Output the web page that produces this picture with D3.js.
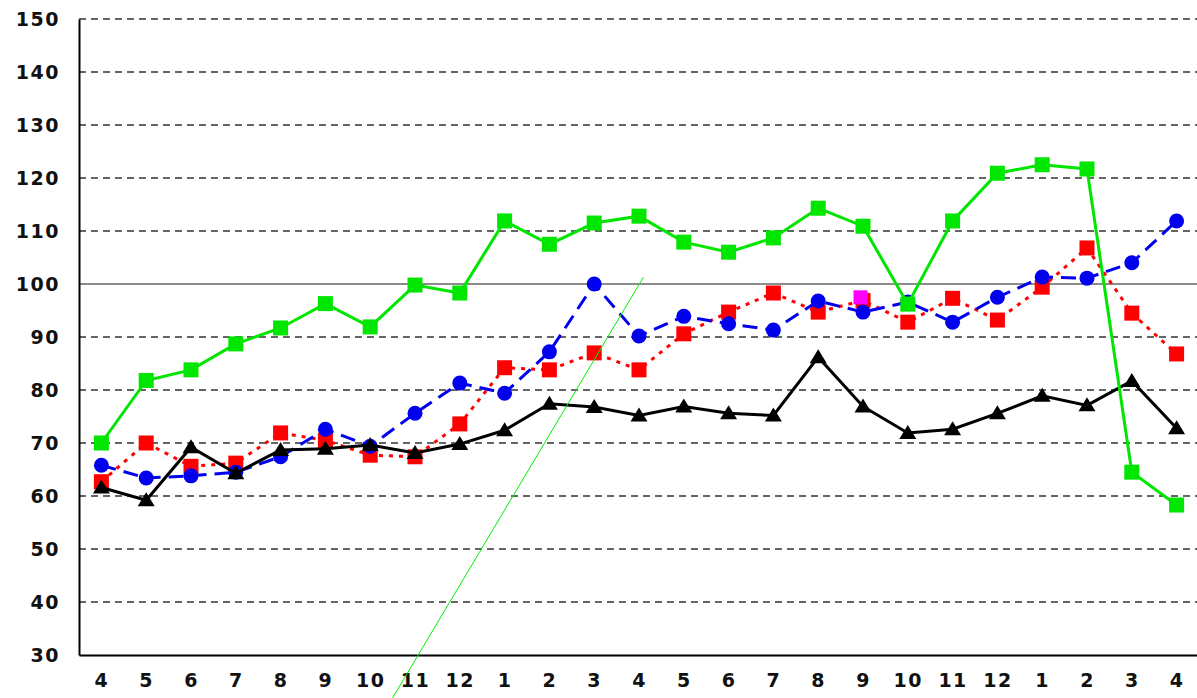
<!DOCTYPE html>
<html><head><meta charset="utf-8">
<script src="https://cdn.jsdelivr.net/npm/d3@7"></script>
<style>html,body{margin:0;padding:0;background:#fff;}svg{display:block;}</style>
</head><body>
<svg id="chart" width="1197" height="698"></svg>
<script>
const categories = ["4","5","6","7","8","9","10","11","12","1","2","3","4","5","6","7","8","9","10","11","12","1","2","3","4"];
const yTicks = [30,40,50,60,70,80,90,100,110,120,130,140,150];
const greenSeries = [70,81.8,83.8,88.7,91.7,96.3,91.9,99.8,98.3,111.9,107.5,111.5,112.8,107.9,106,108.7,114.3,110.9,96.2,111.9,120.9,122.5,121.7,64.5,58.3];
const redSeries = [62.7,70,65.6,66.2,71.9,70.5,67.7,67.4,73.6,84.2,83.8,87,83.8,90.6,94.7,98.3,94.7,96.9,92.8,97.3,93.2,99.4,106.8,94.5,86.8];
const blueSeries = [65.8,63.4,63.8,64.5,67.4,72.6,69.4,75.6,81.3,79.4,87.2,100,90.2,93.9,92.5,91.3,96.8,94.7,96.6,92.8,97.5,101.3,101.1,104,111.9];
const blackSeries = [61.6,59.2,69.2,64.3,68.7,68.9,69.6,68.1,69.8,72.4,77.4,76.8,75.2,76.9,75.6,75.2,86.2,76.9,71.9,72.6,75.6,78.9,77.1,81.7,72.8];
const magentaPoint = [{i:17, v:97.3}];
const trendLine = [{i:6.5, v:21.9},{i:12.1, v:101.3}];

const svg = d3.select("#chart");
const x = d3.scaleLinear().domain([-0.5, 24.5]).range([79, 1199]);
const y = d3.scaleLinear().domain([30, 150]).range([655, 19]);
const font = "'DejaVu Sans', Verdana, sans-serif";

// grid lines
svg.append("g").selectAll("line").data(yTicks.filter(t => t !== 30))
  .join("line")
  .attr("x1", 79).attr("x2", 1199)
  .attr("y1", d => y(d)).attr("y2", d => y(d))
  .attr("stroke", d => d === 100 ? "#666" : "#333")
  .attr("stroke-width", 1.3)
  .attr("stroke-dasharray", d => d === 100 ? null : "7,5");

// axes
const yAxis = d3.axisLeft(y).tickValues(yTicks).tickSize(0).tickPadding(19);
const gy = svg.append("g").attr("transform", "translate(79,0)").call(yAxis);
gy.select(".domain").attr("stroke", "#000").attr("stroke-width", 2);
gy.selectAll("text").attr("font-family", font).attr("font-weight", "bold")
  .attr("font-size", 19).attr("letter-spacing", "1.5px").attr("fill", "#111");

const xAxis = d3.axisBottom(x).tickValues(d3.range(categories.length))
  .tickFormat(i => categories[i]).tickSize(0).tickPadding(19);
const gx = svg.append("g").attr("transform", "translate(0,655)").call(xAxis);
gx.select(".domain").attr("stroke", "#000").attr("stroke-width", 2);
gx.selectAll("text").attr("font-family", font).attr("font-weight", "bold")
  .attr("font-size", 19).attr("letter-spacing", "1.5px").attr("fill", "#111");

const line = d3.line().x((d, i) => x(i)).y(d => y(d));

function drawSeries(data, color, dash, marker) {
  svg.append("path").datum(data).attr("d", line)
    .attr("fill", "none").attr("stroke", color).attr("stroke-width", 3)
    .attr("stroke-dasharray", dash);
  const g = svg.append("g");
  data.forEach((v, i) => {
    if (marker === "square") {
      g.append("rect").attr("x", x(i) - 7.5).attr("y", y(v) - 7.5)
        .attr("width", 15).attr("height", 15).attr("fill", color);
    } else if (marker === "circle") {
      g.append("circle").attr("cx", x(i)).attr("cy", y(v)).attr("r", 7.5).attr("fill", color);
    } else {
      const cx = x(i), cy = y(v);
      g.append("path").attr("d", `M${cx},${cy-8}L${cx+8.5},${cy+6}L${cx-8.5},${cy+6}Z`).attr("fill", color);
    }
  });
}

drawSeries(redSeries, "#ff0000", "4,6", "square");
drawSeries(blueSeries, "#0000ee", "15,8", "circle");
drawSeries(blackSeries, "#000000", null, "triangle");
drawSeries(greenSeries, "#00e600", null, "square");

svg.append("g").selectAll("rect").data(magentaPoint).join("rect")
  .attr("x", d => x(d.i) - 9.5).attr("y", d => y(d.v) - 8)
  .attr("width", 14).attr("height", 14).attr("fill", "#ff00ff");

svg.append("path").datum(trendLine)
  .attr("d", d3.line().x(d => x(d.i)).y(d => y(d.v)))
  .attr("fill", "none").attr("stroke", "#00ee00").attr("stroke-width", 1);
</script>
</body></html>
